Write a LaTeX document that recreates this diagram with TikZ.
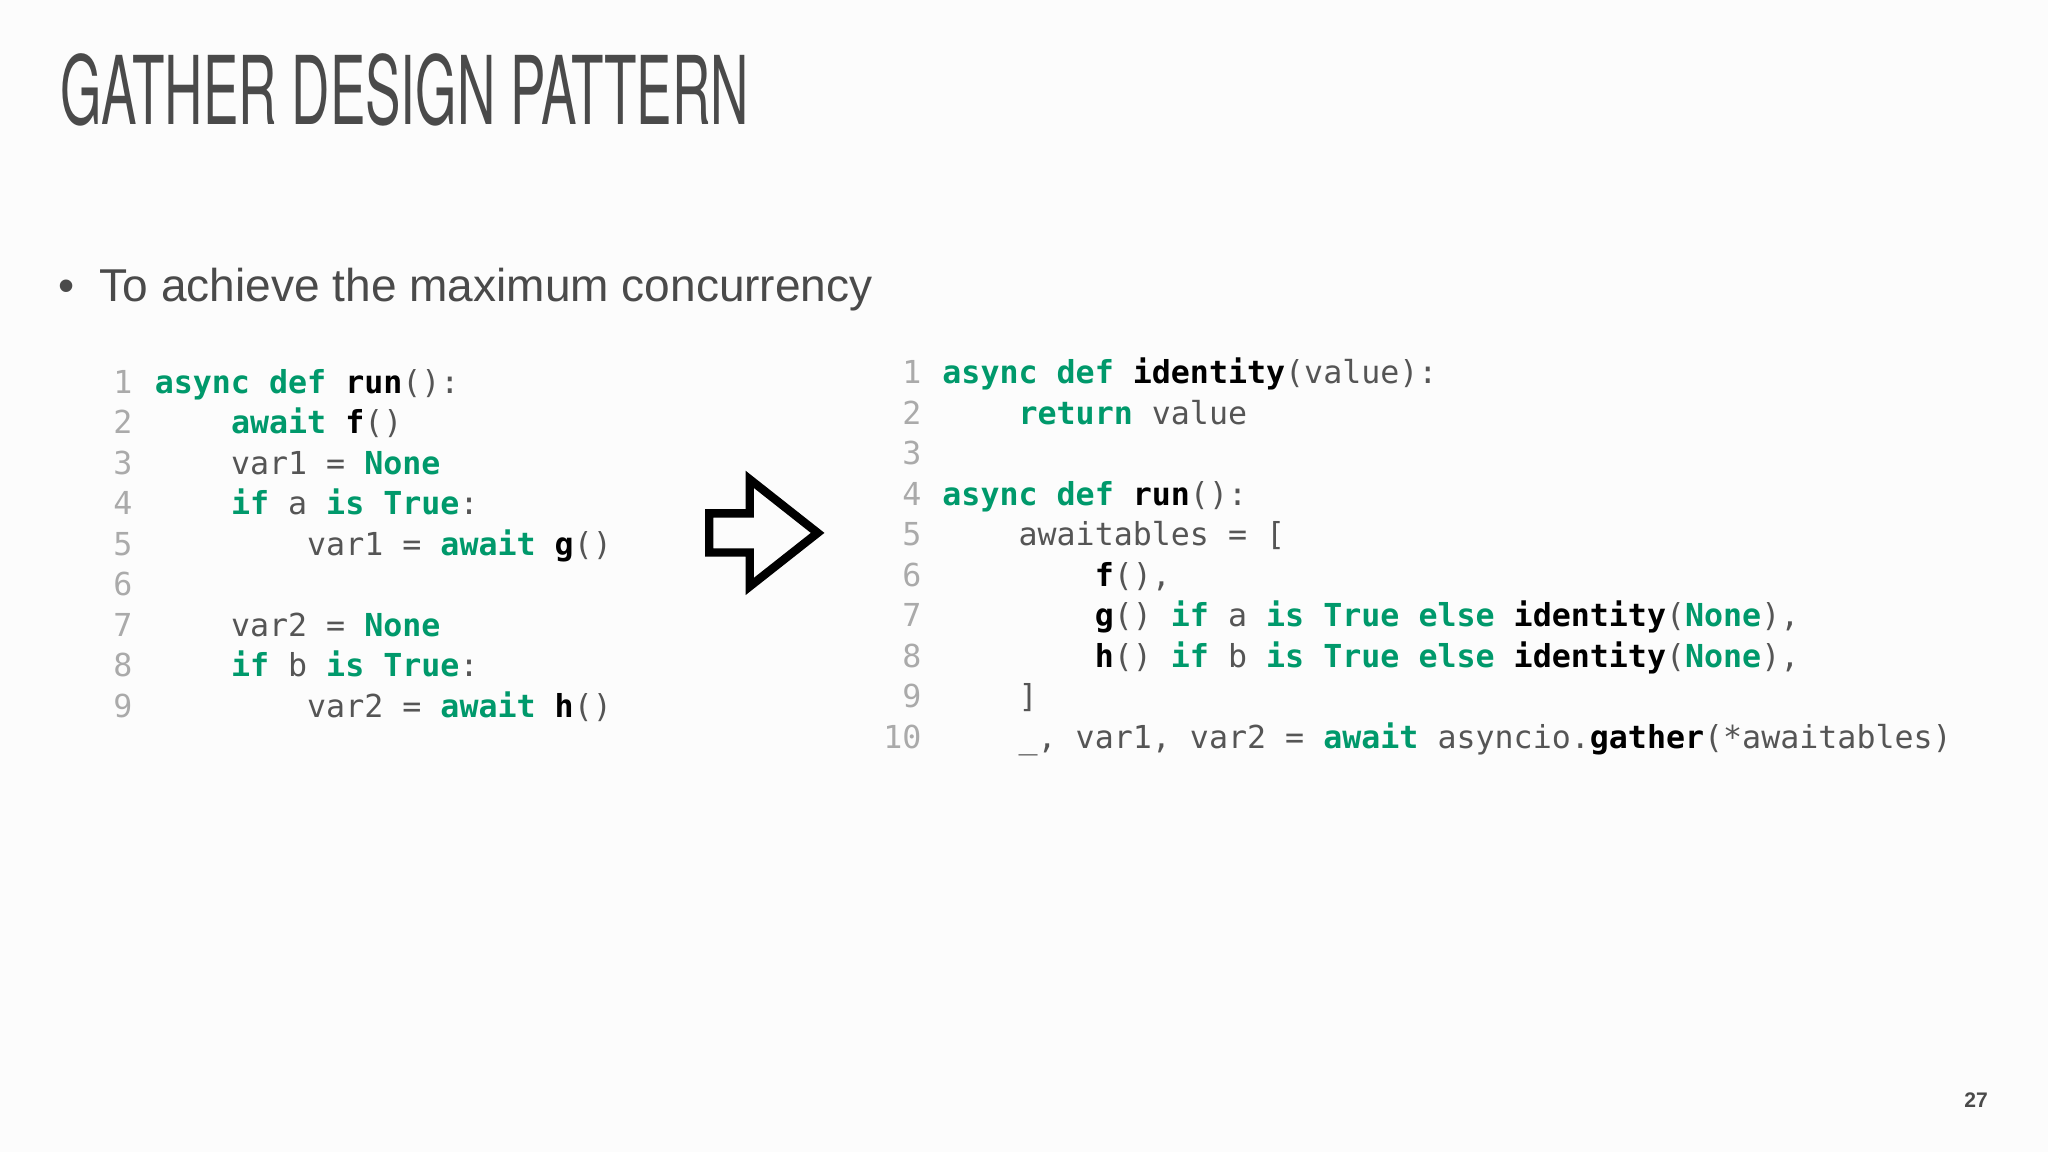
\documentclass[tikz,border=0pt]{standalone}
\usepackage{fontspec}
\setmainfont{Liberation Sans}
\newfontfamily\codefont{DejaVu Sans Mono}
\newfontfamily\titlefont{TeX Gyre Heros}
\definecolor{kw}{HTML}{00996B}
\definecolor{cg}{HTML}{555555}
\definecolor{ln}{HTML}{AAAAAA}
\definecolor{tt}{HTML}{4A4A4A}
\newcommand{\K}[1]{\textcolor{kw}{\bfseries #1}}
\newcommand{\B}[1]{\textcolor{black}{\bfseries #1}}
\newcommand{\IA}{\phantom{0000}}
\newcommand{\IB}{\phantom{00000000}}
\begin{document}
\begin{tikzpicture}[x=0.013061cm,y=-0.013061cm,
  code/.style={anchor=base west,inner sep=0pt,font=\codefont\fontsize{9}{10}\selectfont,text=cg},
  lnum/.style={anchor=base east,inner sep=0pt,font=\codefont\fontsize{9}{10}\selectfont,text=ln}]
\fill[white!98!gray] (0,0) rectangle (1568,882);
\useasboundingbox (0,0) rectangle (1568,882);
\node[anchor=base west,inner sep=0pt,text=tt] (title) at (46,95) {\scalebox{0.56}[1]{\titlefont\fontsize{27}{30}\selectfont GATHER DESIGN PATTERN}};
\node[anchor=base west,inner sep=0pt,text=tt,font=\fontsize{13.1}{15}\selectfont] (bullet) at (44,231) {\textbullet\ \ To achieve the maximum concurrency};
% left code
\foreach \n/\t [count=\i] in {
 1/{\K{async def} \B{run}():},
 2/{\IA\K{await} \B{f}()},
 3/{\IA var1 = \K{None}},
 4/{\IA\K{if} a \K{is} \K{True}:},
 5/{\IB var1 = \K{await} \B{g}()},
 6/{},
 7/{\IA var2 = \K{None}},
 8/{\IA\K{if} b \K{is} \K{True}:},
 9/{\IB var2 = \K{await} \B{h}()}}{
 \node[lnum] (ln\i) at (102,{301+31*(\i-1)}) {\n};
 \node[code] (lc\i) at (118,{301+31*(\i-1)}) {\t};
}
% right code
\foreach \n/\t [count=\i] in {
 1/{\K{async def} \B{identity}(value):},
 2/{\IA\K{return} value},
 3/{},
 4/{\K{async def} \B{run}():},
 5/{\IA awaitables = [},
 6/{\IB\B{f}(),},
 7/{\IB\B{g}() \K{if} a \K{is} \K{True} \K{else} \B{identity}(\K{None}),},
 8/{\IB\B{h}() \K{if} b \K{is} \K{True} \K{else} \B{identity}(\K{None}),},
 9/{\IA]},
 10/{\IA\_, var1, var2 = \K{await} asyncio.\B{gather}(*awaitables)}}{
 \node[lnum] (rn\i) at (706,{294+31*(\i-1)}) {\n};
 \node[code] (rc\i) at (721,{294+31*(\i-1)}) {\t};
}
\draw[line width=2.4pt,line join=miter] (543,393) -- (574,393) -- (574,367) -- (626,408) -- (574,449) -- (574,423) -- (543,423) -- cycle;
\node[anchor=center,font=\bfseries\fontsize{6}{7}\selectfont,text=tt] (page) at (1513,842) {27};
\end{tikzpicture}
\end{document}
